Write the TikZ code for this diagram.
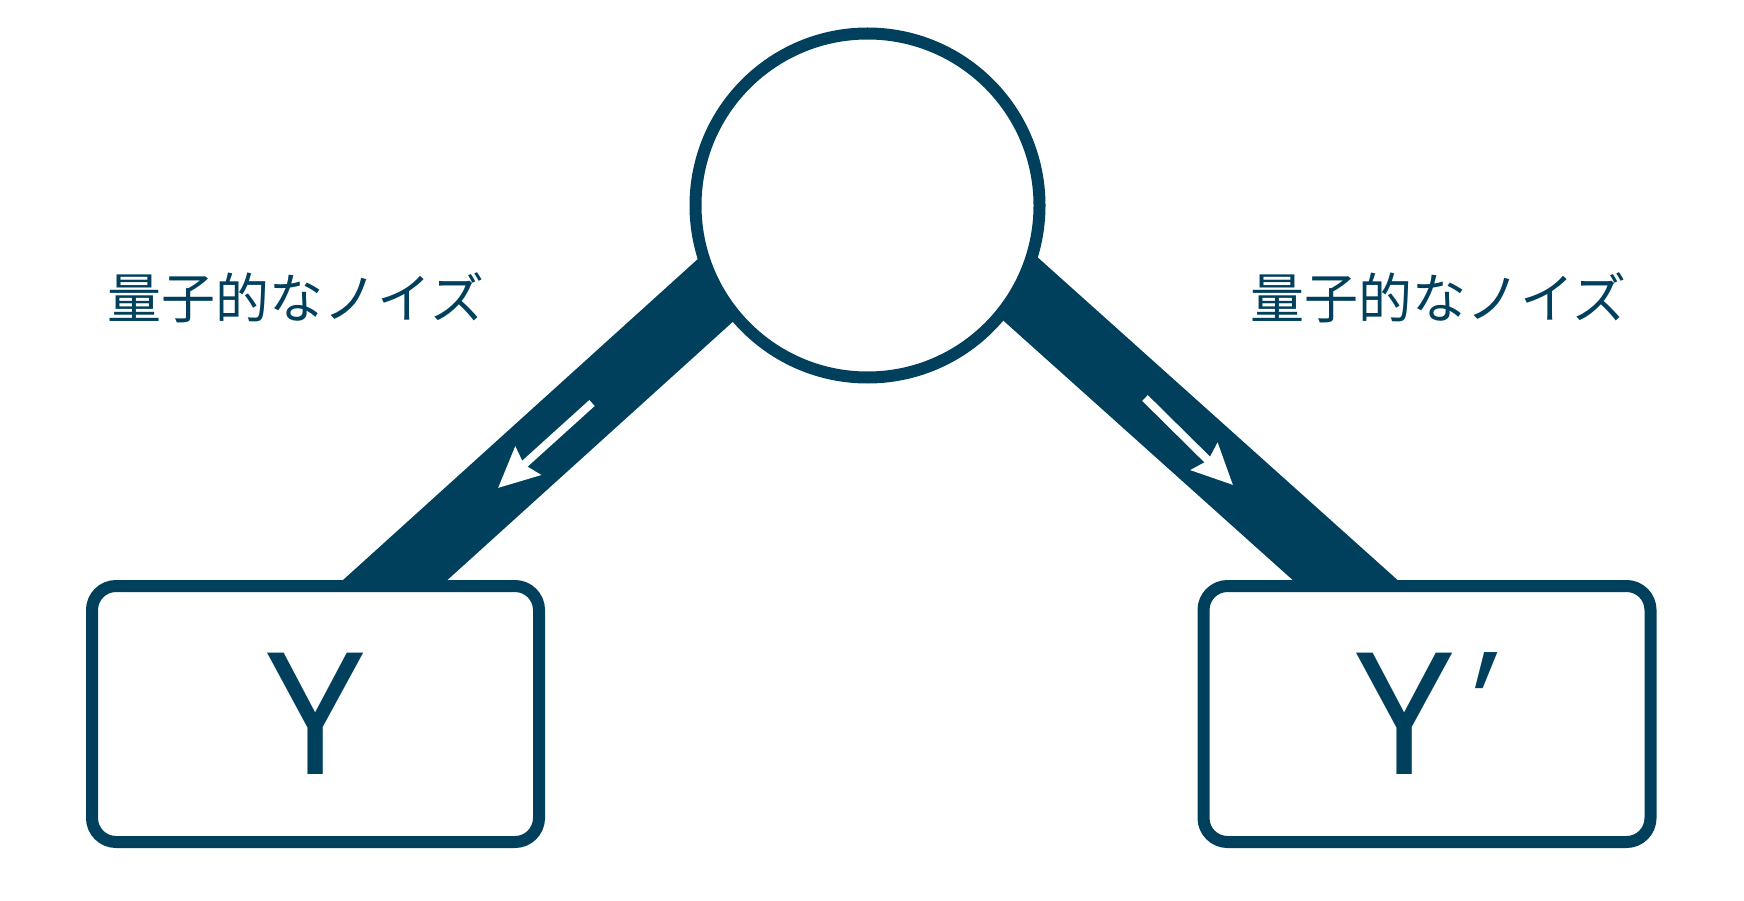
\documentclass[tikz,border=0pt]{standalone}
\usepackage{fontspec}
\setmainfont{Noto Sans}
\newfontfamily\jpfont{Noto Sans CJK JP}
\newfontfamily\primefont[FakeSlant=0.33]{Noto Sans}
\usetikzlibrary{arrows.meta}
\definecolor{teal}{RGB}{0,64,92}
\begin{document}
\begin{tikzpicture}[x=1pt,y=-1pt,
  bandline/.style={draw=teal,line width=70pt,line cap=butt},
  boxnode/.style={draw=teal,fill=white,line width=12pt,rounded corners=24pt,
    minimum width=447pt,minimum height=256pt,inner sep=0pt,
    font=\fontsize{170pt}{170pt}\selectfont,text=teal},
  ringnode/.style={circle,draw=teal,fill=white,line width=12pt,minimum size=344pt,inner sep=0pt},
  noiselabel/.style={font=\jpfont\fontsize{54pt}{60pt}\selectfont,text=teal,inner sep=0pt},
  flowarrow/.style={draw=white,line width=8pt,-{Stealth[inset=5pt,width=37pt,length=40pt,fill=white]}}
]
\useasboundingbox[fill=white] (0,0) rectangle (1744,901);
% band coordinates
\coordinate (lt) at (818,197.5);
\coordinate (lb) at (351,620);
\coordinate (rt) at (920.6,199.4);
\coordinate (rb) at (1389.7,620);
\draw[bandline] (lt) -- (lb);
\draw[bandline] (rt) -- (rb);
% arrows
\coordinate (la1) at (592,403);
\coordinate (la2) at (498,488);
\coordinate (ra1) at (1145,398);
\coordinate (ra2) at (1233,485);
\draw[flowarrow] (la1) -- (la2);
\draw[flowarrow] (ra1) -- (ra2);
% nodes
\node[ringnode] (src) at (867.5,205.5) {};
\node[boxnode] (y) at (315.5,714) {Y};
\node[boxnode] (yp) at (1427,714) {Y\kern -10pt\raisebox{22pt}{\primefont\bfseries\fontsize{140pt}{140pt}\selectfont '}\hspace*{24pt}};
\node[noiselabel] (nl) at (296,298) {量子的なノイズ};
\node[noiselabel] (nr) at (1438.5,298) {量子的なノイズ};
\end{tikzpicture}
\end{document}
